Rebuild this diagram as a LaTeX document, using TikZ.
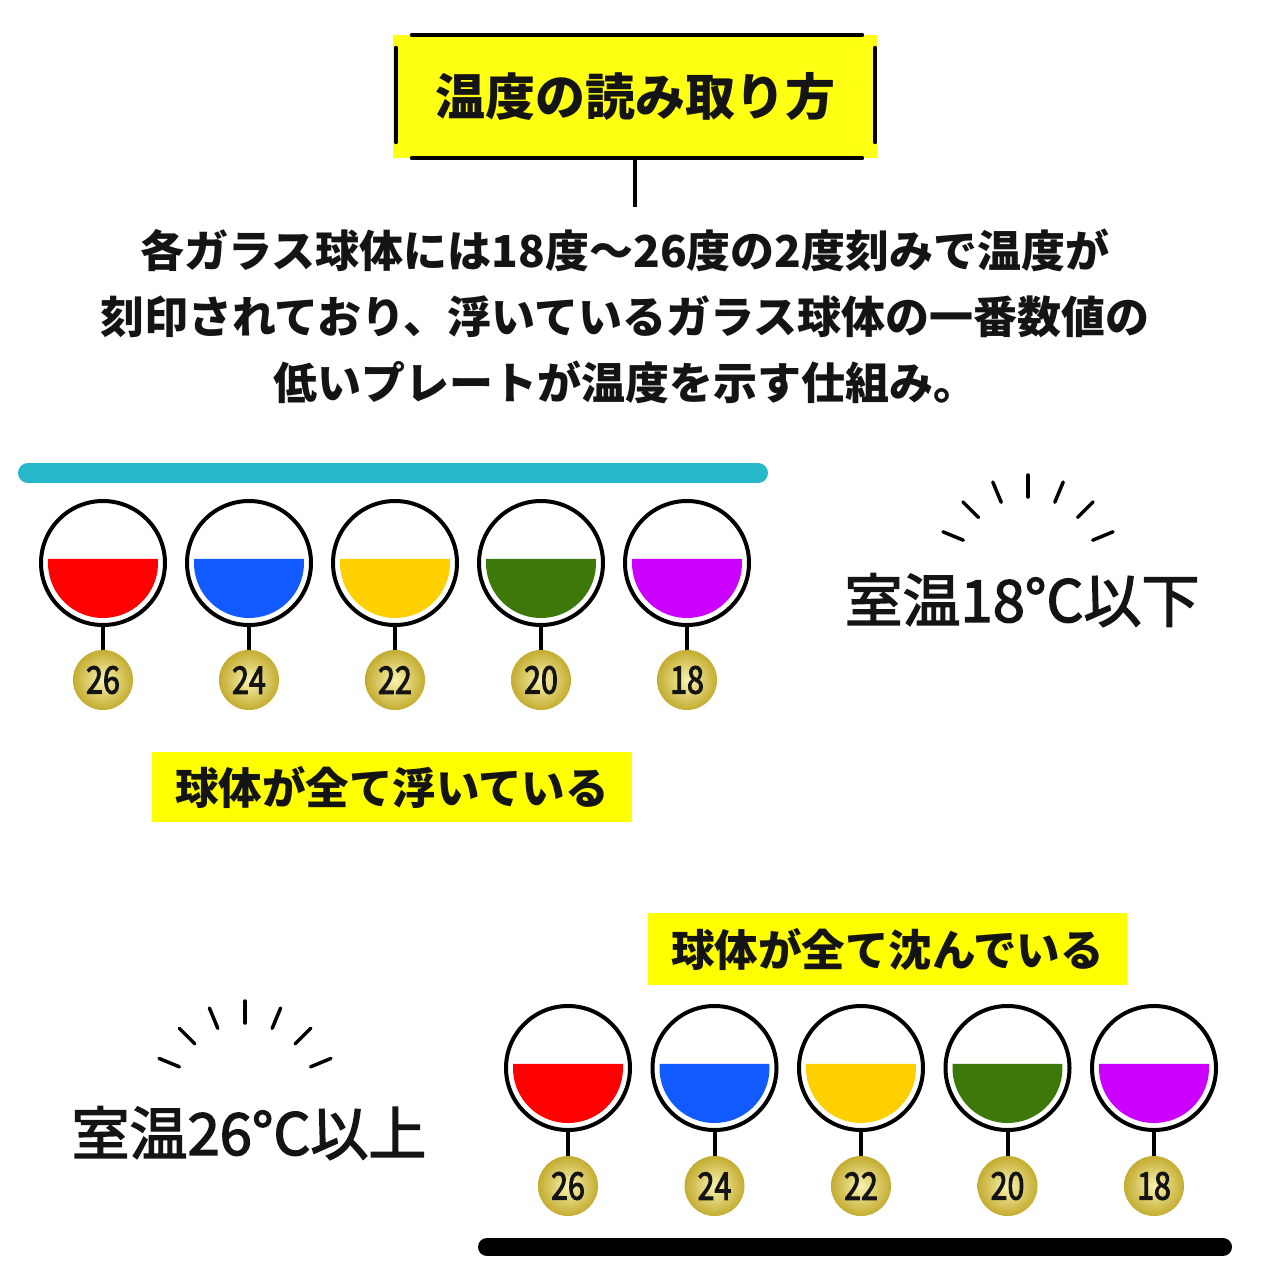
\documentclass[tikz,border=0pt]{standalone}
\usepackage{fontspec}
\newfontfamily\jp{Noto Sans CJK JP}
\newfontfamily\jpn{Noto Sans CJK JP}[FakeStretch=0.8,FakeBold=2.5]
\newfontfamily\jpm{Noto Sans CJK JP}[FakeBold=2.5]
\usetikzlibrary{calc}
\definecolor{titleyellow}{RGB}{255,255,20}
\definecolor{labelyellow}{RGB}{255,255,0}
\definecolor{lqred}{RGB}{255,0,0}
\definecolor{lqblue}{RGB}{16,90,255}
\definecolor{lqyellow}{RGB}{255,208,0}
\definecolor{lqgreen}{RGB}{60,120,10}
\definecolor{lqpurple}{RGB}{204,0,255}
\definecolor{cyanbar}{RGB}{38,183,200}
\definecolor{goldhi}{RGB}{248,242,175}
\definecolor{goldlo}{RGB}{196,172,48}
\definecolor{ink}{RGB}{20,20,20}
\begin{document}
\begin{tikzpicture}[x=1pt,y=-1pt,
  ball/.style={circle,draw=black,line width=4pt,minimum size=124pt,inner sep=0pt,fill=white},
  tag/.style={circle,minimum size=60pt,inner sep=0pt,inner color=goldhi,outer color=goldlo,
    text=ink,font=\jpn\fontsize{38}{38}\selectfont},
  stem/.style={line width=4pt},
  lbl/.style={fill=labelyellow,minimum width=480pt,minimum height=70pt,inner sep=0pt,
    text=ink,font=\jp\bfseries\fontsize{43.5}{43.5}\selectfont},
  ray/.style={line width=3.5pt,line cap=round},
  bracket/.style={line width=4pt,line cap=round},
  bigtxt/.style={text=ink,font=\jpm\fontsize{58}{58}\selectfont}
]
\fill[white] (0,0) rectangle (1280,1280);
\useasboundingbox (0,0) rectangle (1280,1280);

% title
\node[fill=titleyellow,minimum width=484pt,minimum height=123pt,inner sep=0pt,text=ink,
  font=\jp\bfseries\fontsize{50}{50}\selectfont] (title) at (635,96.5) {温度の読み取り方};
\draw[bracket] ([xshift=19pt]title.north west) -- ([xshift=-15pt]title.north east);
\draw[bracket] ([xshift=19pt]title.south west) -- ([xshift=-15pt]title.south east);
\draw[bracket] ([xshift=3pt,yshift=-13pt]title.north west) -- ([xshift=3pt,yshift=16pt]title.south west);
\draw[bracket] ([xshift=-2pt,yshift=-13pt]title.north east) -- ([xshift=-2pt,yshift=16pt]title.south east);
\coordinate (stemend) at (635,207);
\draw[line width=4pt] (title.south) -- (stemend);

% paragraph
\node[align=center,text=ink,font=\jp\bfseries\fontsize{44}{66}\selectfont] (para) at (625,316)
  {各ガラス球体には18度～26度の2度刻みで温度が\\刻印されており、浮いているガラス球体の一番数値の\\低いプレートが温度を示す仕組み。};

% top section
\draw[cyanbar,line width=20pt,line cap=round] (28,473) -- (758,473);
\foreach \i/\c/\n in {0/lqred/26,1/lqblue/24,2/lqyellow/22,3/lqgreen/20,4/lqpurple/18}{
  \node[ball] (ta\i) at ({103+146*\i},563) {};
  \fill[\c] ($(ta\i.center)+(-4.2:55)$) arc[start angle=-4.2,end angle=184.2,radius=55] -- cycle;
  \node[tag] (tt\i) at ({103+146*\i},680) {\n};
  \draw[stem] (ta\i.south) -- (tt\i.north);
}
\node[lbl] (lab1) at (392,787) {球体が全て浮いている};

\coordinate (sunA) at (1028,567);
\foreach \a in {-157.5,-135,-112.5,-90,-67.5,-45,-22.5}{
  \draw[ray] ($(sunA)+(\a:70)$) -- ($(sunA)+(\a:92)$);
}
\node[bigtxt] (t18) at (1022,600) {室温18°C以下};

% bottom section
\node[lbl,minimum width=479pt,minimum height=72pt] (lab2) at (887.5,949) {球体が全て沈んでいる};
\foreach \i/\c/\n in {0/lqred/26,1/lqblue/24,2/lqyellow/22,3/lqgreen/20,4/lqpurple/18}{
  \node[ball] (ba\i) at ({568+146.5*\i},1068) {};
  \fill[\c] ($(ba\i.center)+(-4.2:55)$) arc[start angle=-4.2,end angle=184.2,radius=55] -- cycle;
  \node[tag] (bt\i) at ({568+146.5*\i},1186) {\n};
  \draw[stem] (ba\i.south) -- (bt\i.north);
}
\draw[black,line width=18pt,line cap=round] (487,1247) -- (1223,1247);

\coordinate (sunB) at (245,1094);
\foreach \a in {-157.5,-135,-112.5,-90,-67.5,-45,-22.5}{
  \draw[ray] ($(sunB)+(\a:71)$) -- ($(sunB)+(\a:93)$);
}
\node[bigtxt] (t26) at (249,1133) {室温26°C以上};
\end{tikzpicture}
\end{document}
